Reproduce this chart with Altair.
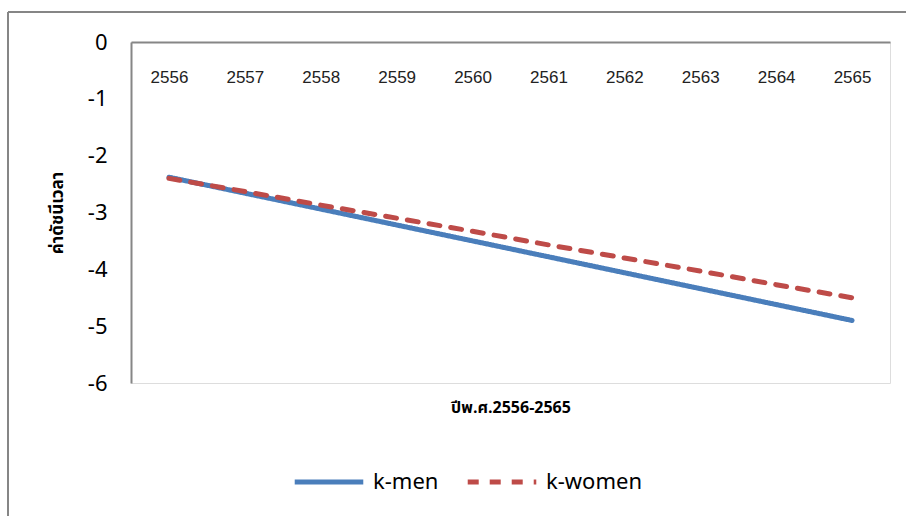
import altair as alt
import pandas as pd

years = ["2556", "2557", "2558", "2559", "2560", "2561", "2562", "2563", "2564", "2565"]
k_men = [-2.38, -2.66, -2.94, -3.22, -3.50, -3.78, -4.06, -4.34, -4.62, -4.90]
k_women = [-2.40, -2.63, -2.87, -3.10, -3.33, -3.57, -3.80, -4.03, -4.27, -4.50]
series = ["k-men", "k-women"]
y_ticks = [0, -1, -2, -3, -4, -5, -6]

rows = []
for name, vals in zip(series, [k_men, k_women]):
    for yr, v in zip(years, vals):
        rows.append({"year": yr, "value": v, "series": name})
df = pd.DataFrame(rows)

W, H = 759, 341
GRAY = "#868686"
FONT = "Liberation Sans"
THAI = "Noto Sans Thai, Noto Sans, DejaVu Sans"

legend_cfg = dict(title=None, orient="none", legendX=161, legendY=403,
                  direction="horizontal", symbolType="stroke",
                  symbolSize=4700, symbolStrokeWidth=5,
                  labelFont="Noto Sans", labelFontSize=22,
                  labelColor="#000000", columnPadding=18, labelOffset=7)

lines = alt.Chart(df).mark_line(strokeWidth=5, strokeCap="round").encode(
    x=alt.X("year:N", sort=years,
            scale=alt.Scale(paddingInner=0, paddingOuter=0.5),
            axis=alt.Axis(orient="top", title="ปีพ.ศ.2556-2565", ticks=False,
                          domainColor=GRAY, domainWidth=2, labelAngle=0,
                          labelFont=FONT, labelFontSize=17, labelColor="#222222",
                          labelPadding=-44,
                          titleFont=THAI, titleFontSize=16, titleFontWeight="bold",
                          titleX=W / 2, titleY=365, titleBaseline="middle",
                          titleColor="#000000")),
    y=alt.Y("value:Q", scale=alt.Scale(domain=[-6, 0], nice=False, zero=False),
            axis=alt.Axis(values=y_ticks, grid=False, ticks=False, domainColor=GRAY,
                          domainWidth=2, labelFont="Noto Sans", labelFontSize=22,
                          labelColor="#000000", labelPadding=24,
                          labelExpr="datum.value == 0 ? '0' : '-' + abs(datum.value)",
                          title="ค่าดัชนีเวลา", titleFont=THAI, titleFontSize=17,
                          titleFontWeight="bold", titleX=-74, titleBaseline="middle",
                          titleColor="#000000")),
    color=alt.Color("series:N", scale=alt.Scale(domain=series, range=["#4A7EBB", "#BE4B48"]),
                    legend=alt.Legend(**legend_cfg)),
    strokeDash=alt.StrokeDash("series:N", scale=alt.Scale(domain=series, range=[[1, 0], [11, 11]]),
                              legend=alt.Legend(**legend_cfg)),
)

frame_top = alt.Chart(df).mark_rule(color=GRAY, strokeWidth=2).encode(
    x=alt.value(-123), x2=alt.value(775), y=alt.value(-30))
frame_left = alt.Chart(df).mark_rule(color=GRAY, strokeWidth=2).encode(
    x=alt.value(-123), y=alt.value(-30), y2=alt.value(474))

chart = alt.layer(frame_top, frame_left, lines).properties(
    width=W, height=H,
    autosize=alt.AutoSizeParams(type="none"),
    padding={"left": 131, "top": 42, "right": 16, "bottom": 133},
).configure_view(stroke=None).configure(background="white")

chart.save("out.html", embed_options={"renderer": "svg", "actions": False})
